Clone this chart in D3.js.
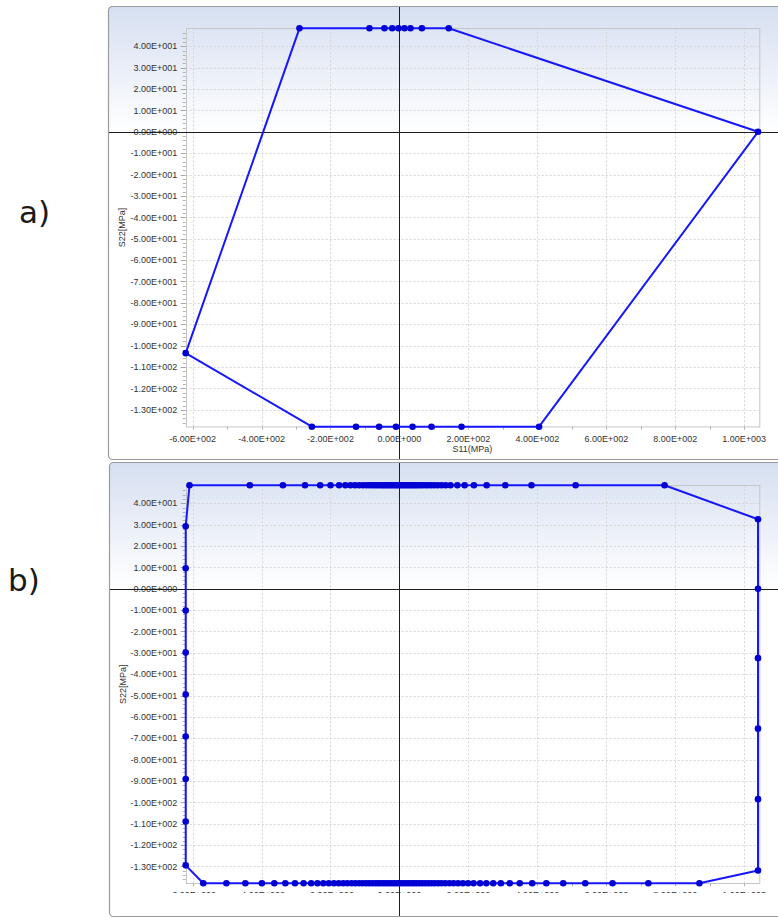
<!DOCTYPE html>
<html>
<head>
<meta charset="utf-8">
<script src="https://cdn.jsdelivr.net/npm/d3@7/dist/d3.min.js"></script>
<style>
  html, body { margin: 0; padding: 0; background: #ffffff; }
  svg { display: block; }
  .tick-label { font-family: "Liberation Sans", Arial, sans-serif; font-size: 9px; fill: #333333; }
  .axis-title { font-family: "Liberation Sans", Arial, sans-serif; font-size: 9px; fill: #333333; }
  .panel-tag { font-family: "DejaVu Sans", Verdana, sans-serif; font-size: 31px; fill: #1a1a1a; }
</style>
</head>
<body>
<svg id="chart" width="778" height="918"></svg>
<script>
// Axis ticks shared by both panels
const tickS11 = [-600, -400, -200, 0, 200, 400, 600, 800, 1000];
const tickS22 = [40, 30, 20, 10, 0, -10, -20, -30, -40, -50, -60, -70, -80, -90, -100, -110, -120, -130];

// Panel a) – closed stress path (S11, S22) in MPa
const aS11 = [-290, -87, -43.5, -21, -3, 14.5, 32, 65, 143,
              1040,
              405, 180, 93, 38, -10, -59, -126, -254,
              -620];
const aS22 = [48.4, 48.4, 48.4, 48.4, 48.4, 48.4, 48.4, 48.4, 48.4,
              0,
              -137.9, -137.9, -137.9, -137.9, -137.9, -137.9, -137.9, -137.9,
              -103.5];

// Panel b) – densely sampled boundary, stored edge by edge
const bTopS22 = 48.4;
const bTopS11 = [-609, -434, -338, -274, -230, -200, -175, -157, -142, -129, -117, -106, -96, -87,
                 -79, -71, -64, -57, -50, -44, -38, -32, -26, -20, -14, -8, -2, 4, 10, 16, 22, 28,
                 34, 40, 46, 53, 60, 67, 75, 83, 92, 101, 111, 122, 134, 148, 168, 189, 216, 253,
                 307, 383, 511, 769];
const bRightS11 = 1040;
const bRightS22 = [32.5, 0, -32.5, -65.5, -98.5, -131.9];
const bBottomS22 = -137.9;
const bBottomS11 = [-569, -502, -447, -399, -363, -331, -303, -278, -256, -238, -221, -205, -190,
                    -176, -163, -151, -139, -128, -117, -107, -97, -88, -79, -70, -62, -54, -46,
                    -38, -30, -22, -14, -6, 2, 10, 18, 26, 34, 42, 50, 58, 66, 75, 84, 93, 102,
                    112, 122, 133, 145, 157, 170, 184, 199, 215, 234, 252, 272, 294, 320, 349,
                    385, 426, 475, 539, 618, 722, 870];
const bLeftS11 = -620;
const bLeftS22 = [-129.5, -109, -89.1, -69.2, -49.5, -29.9, -10.2, 9.6, 29.2];

// Build ordered point lists
const pathA = aS11.map((x, i) => ({ x, y: aS22[i] }));
const pathB = [
  ...bTopS11.map(x => ({ x, y: bTopS22 })),
  ...bRightS22.map(y => ({ x: bRightS11, y })),
  ...bBottomS11.slice().reverse().map(x => ({ x, y: bBottomS22 })),
  ...bLeftS22.map(y => ({ x: bLeftS11, y }))
];

function sci(v) {
  if (v === 0) return "0.00E+000";
  const e = Math.floor(Math.log10(Math.abs(v)) + 1e-9);
  const m = v / Math.pow(10, e);
  return m.toFixed(2) + "E" + (e >= 0 ? "+" : "-") + String(Math.abs(e)).padStart(3, "0");
}

const svg = d3.select("#chart");
const defs = svg.append("defs");
const grad = defs.append("linearGradient")
  .attr("id", "panelFill").attr("x1", 0).attr("y1", 0).attr("x2", 0).attr("y2", 1);
grad.append("stop").attr("offset", "0").attr("stop-color", "#d6dff1");
grad.append("stop").attr("offset", "0.28").attr("stop-color", "#ffffff");
grad.append("stop").attr("offset", "1").attr("stop-color", "#ffffff");

function drawPanel(cfg) {
  const g = svg.append("g");
  const p = cfg.panel;

  g.append("rect")
    .attr("x", p.x + 0.5).attr("y", p.y + 0.5)
    .attr("width", p.w).attr("height", p.h)
    .attr("rx", 4).attr("ry", 4)
    .attr("fill", "url(#panelFill)")
    .attr("stroke", "#9c9c9c").attr("stroke-width", 1.2);

  const x = d3.scaleLinear()
    .domain(d3.extent(cfg.points, d => d.x))
    .range([cfg.plot.left, cfg.plot.right]);
  const y = d3.scaleLinear()
    .domain(d3.extent(cfg.points, d => d.y))
    .range([cfg.plot.bottom, cfg.plot.top]);

  const L = cfg.plot.left, R = cfg.plot.right + 1, T = cfg.plot.top, B = cfg.plot.bottom;

  // gridlines
  const grid = g.append("g").attr("stroke", "#d6d6d6").attr("stroke-width", 1)
    .attr("stroke-dasharray", "2,2");
  grid.selectAll("line.gx").data(tickS11).join("line")
    .attr("x1", d => Math.round(x(d)) + 0.5).attr("x2", d => Math.round(x(d)) + 0.5)
    .attr("y1", T).attr("y2", B);
  grid.selectAll("line.gy").data(tickS22).join("line")
    .attr("x1", L).attr("x2", R)
    .attr("y1", d => Math.round(y(d)) + 0.5).attr("y2", d => Math.round(y(d)) + 0.5);

  // plot frame
  g.append("rect")
    .attr("x", Math.round(L) + 0.5).attr("y", Math.round(T) + 0.5)
    .attr("width", R - L).attr("height", B - T)
    .attr("fill", "none").attr("stroke", "#c6c6c6");

  // minor ticks
  const minorY = d3.range(-136, 48, 2);
  g.append("g").attr("stroke", "#b4b4b4").selectAll("line").data(minorY).join("line")
    .attr("x1", L - 3).attr("x2", L)
    .attr("y1", d => Math.round(y(d)) + 0.5).attr("y2", d => Math.round(y(d)) + 0.5);
  g.append("g").attr("stroke", "#a8a8a8").selectAll("line").data(tickS22).join("line")
    .attr("x1", L - 5).attr("x2", L)
    .attr("y1", d => Math.round(y(d)) + 0.5).attr("y2", d => Math.round(y(d)) + 0.5);
  const minorX = d3.range(-600, 1001, 100);
  g.append("g").attr("stroke", "#b4b4b4").selectAll("line").data(minorX).join("line")
    .attr("x1", d => Math.round(x(d)) + 0.5).attr("x2", d => Math.round(x(d)) + 0.5)
    .attr("y1", B).attr("y2", B + 3);

  // tick labels
  g.append("g").selectAll("text").data(tickS22).join("text")
    .attr("class", "tick-label")
    .attr("x", L - 8.5).attr("y", d => y(d) + 3.2)
    .attr("text-anchor", "end")
    .text(sci);

  const clipId = "clip-" + cfg.name;
  defs.append("clipPath").attr("id", clipId)
    .append("rect").attr("x", 0).attr("y", 0).attr("width", 778).attr("height", cfg.clipBottom);
  const xl = g.append("g").attr("clip-path", `url(#${clipId})`);
  xl.selectAll("text").data(tickS11).join("text")
    .attr("class", "tick-label")
    .attr("x", d => x(d)).attr("y", B + 14.8)
    .attr("text-anchor", "middle")
    .text(sci);
  xl.append("text").attr("class", "axis-title")
    .attr("x", (L + R) / 2).attr("y", B + 25.5)
    .attr("text-anchor", "middle").text("S11(MPa)");

  g.append("text").attr("class", "axis-title")
    .attr("transform", `translate(${p.x + 16.5},${(T + B) / 2}) rotate(-90)`)
    .attr("text-anchor", "middle").text("S22[MPa]");

  // zero cross lines
  g.append("line")
    .attr("x1", p.x + 1).attr("x2", 778)
    .attr("y1", Math.round(y(0)) + 0.5).attr("y2", Math.round(y(0)) + 0.5)
    .attr("stroke", "#1e1e1e").attr("stroke-width", 1);
  g.append("line")
    .attr("x1", Math.round(x(0)) + 0.5).attr("x2", Math.round(x(0)) + 0.5)
    .attr("y1", p.y + 1).attr("y2", p.y + p.h)
    .attr("stroke", "#1e1e1e").attr("stroke-width", 1);

  // stress path
  const line = d3.line().x(d => x(d.x)).y(d => y(d.y)).curve(d3.curveLinearClosed);
  g.append("path").datum(cfg.points)
    .attr("d", line)
    .attr("fill", "none").attr("stroke", "#1717ff").attr("stroke-width", 2)
    .attr("stroke-linejoin", "round");
  g.append("g").selectAll("circle").data(cfg.points).join("circle")
    .attr("cx", d => x(d.x)).attr("cy", d => y(d.y)).attr("r", 3.3)
    .attr("fill", "#0000d4");

  // panel tag
  svg.append("text").attr("class", "panel-tag")
    .attr("x", cfg.tag.x).attr("y", cfg.tag.y).text(cfg.tag.text);
}

drawPanel({
  name: "a",
  points: pathA,
  panel: { x: 108, y: 6, w: 700, h: 453 },
  plot: { left: 185.7, right: 758, top: 28.3, bottom: 426.7 },
  clipBottom: 918,
  tag: { x: 19, y: 223, text: "a)" }
});
drawPanel({
  name: "b",
  points: pathB,
  panel: { x: 109, y: 462, w: 700, h: 454 },
  plot: { left: 185.7, right: 758, top: 485.3, bottom: 883.3 },
  clipBottom: 893,
  tag: { x: 8, y: 591, text: "b)" }
});
</script>
</body>
</html>
